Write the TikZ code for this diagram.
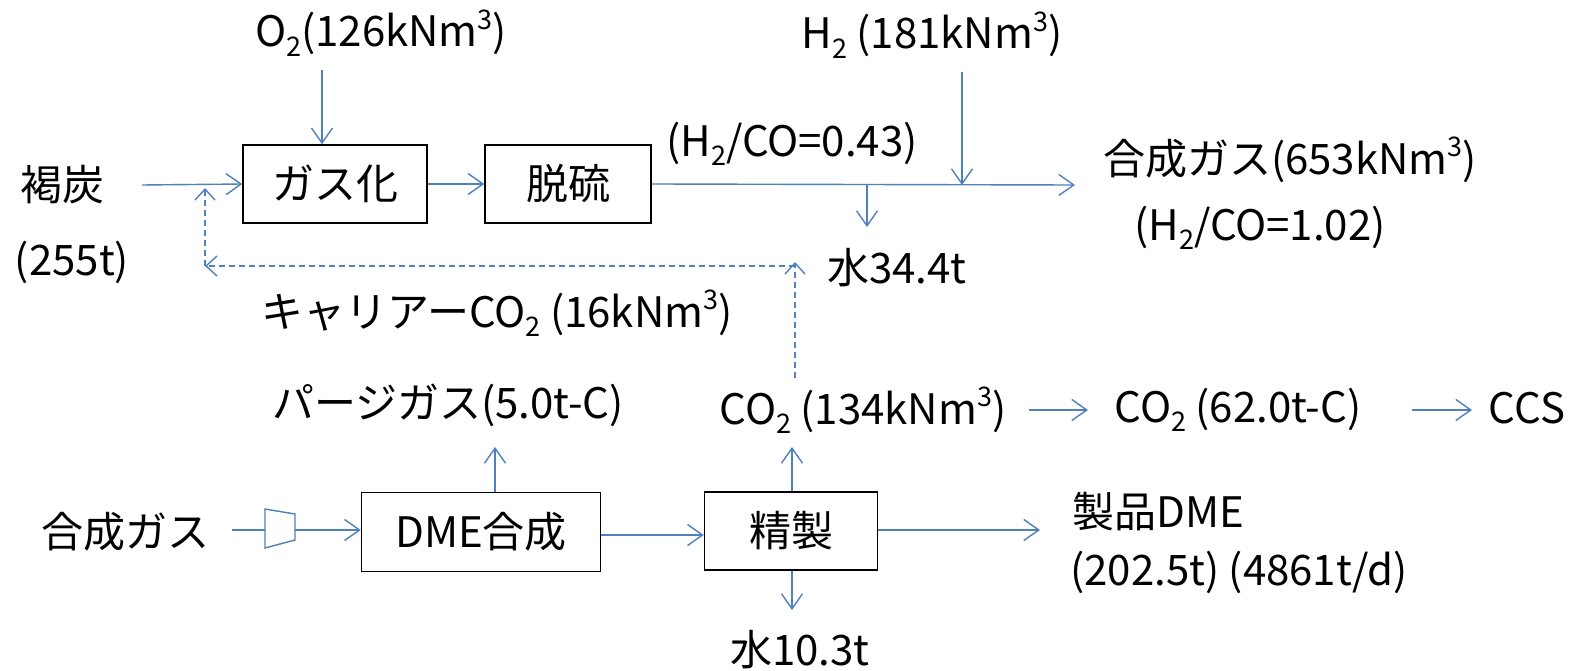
\documentclass[tikz,border=0pt]{standalone}
\usepackage{fontspec}
\setmainfont{Noto Sans CJK JP}
\usetikzlibrary{arrows.meta}
\definecolor{flow}{HTML}{4F81BD}
\newcommand{\supthree}{\raisebox{0.42em}{\fontsize{27}{27}\selectfont 3}}
\newcommand{\subtwo}{\raisebox{-0.22em}{\fontsize{27}{27}\selectfont 2}}
\begin{document}
\begin{tikzpicture}[x=1pt,y=-1pt,
  flowline/.style={draw=flow, line width=1.4pt},
  arr/.style={flowline, -{Straight Barb[length=15pt,width=21pt,line width=1.4pt]}},
  dasharr/.style={flowline, dash pattern=on 6pt off 4pt, -{Straight Barb[length=11pt,width=20pt,line width=1.4pt]}},
  box/.style={draw=black, line width=1.5pt, inner sep=0pt},
  lbl/.style={inner sep=0pt, font=\fontsize{42}{48}\selectfont},
  ]
\useasboundingbox[fill=white] (0,0) rectangle (1569,671);

% boxes
\node[box, lbl, minimum width=184pt, minimum height=78pt] (gas) at (335,184) {ガス化};
\node[box, lbl, minimum width=166pt, minimum height=78pt] (desulf) at (568,184) {脱硫};
\node[box, lbl, minimum width=239pt, minimum height=79pt] (dme) at (481,532) {DME合成};
\node[box, lbl, minimum width=173pt, minimum height=78pt] (purify) at (791,531) {精製};

% labels
\node[lbl] (o2) at (381,33) {O\subtwo(126kNm\supthree)};
\node[lbl] (h2) at (932,35) {H\subtwo\ (181kNm\supthree)};
\node[lbl] (coal) at (62,185) {褐炭};
\node[lbl] (coalamt) at (72,262) {(255t)};
\node[lbl] (ratio1) at (792,144) {(H\subtwo/CO=0.43)};
\node[lbl] (syn) at (1290,160) {合成ガス(653kNm\supthree)};
\node[lbl] (ratio2) at (1260,228) {(H\subtwo/CO=1.02)};
\node[lbl] (water1) at (897,268) {水34.4t};
\node[lbl] (carrier) at (497,313) {キャリアーCO\subtwo\ (16kNm\supthree)};
\node[lbl] (purge) at (448,405) {パージガス(5.0t-C)};
\node[lbl] (co2a) at (863,410) {CO\subtwo\ (134kNm\supthree)};
\node[lbl] (co2b) at (1238,410) {CO\subtwo\ (62.0t-C)};
\node[lbl] (ccs) at (1527,408) {CCS};
\node[lbl] (syn2) at (125,532) {合成ガス};
\node[lbl] (product) at (1158,512) {製品DME};
\node[lbl] (productamt) at (1239,572) {(202.5t) (4861t/d)};
\node[lbl] (water2) at (800,650) {水10.3t};

% coordinates
\coordinate (o2in) at (322,70);
\coordinate (coalout) at (142,185);
\coordinate (synout) at (1075,185);
\coordinate (h2in) at (962,72);
\coordinate (h2join) at (962,185);
\coordinate (wsplit) at (867,185);
\coordinate (wend) at (867,227);
\coordinate (dstart) at (795,378);
\coordinate (dcorner) at (795,266);
\coordinate (dleft) at (205,266);
\coordinate (dtop) at (205,188);
\coordinate (cin) at (232,530);
\coordinate (cl) at (265,530);
\coordinate (cr) at (295,530);
\coordinate (prodend) at (1040,530);
\coordinate (purgein) at (495,447);
\coordinate (co2in) at (792,447);
\coordinate (w2end) at (792,610);
\coordinate (a1s) at (1029,410);
\coordinate (a1e) at (1088,410);
\coordinate (a2s) at (1412,410);
\coordinate (a2e) at (1472,410);

% connectors
\draw[arr] (o2in) -- (o2in |- gas.north);
\draw[arr] (coalout) -- (gas.west);
\draw[arr] (gas.east) -- (desulf.west);
\draw[arr] (desulf.east) -- (synout);
\draw[arr] (h2in) -- (h2join);
\draw[arr] (wsplit) -- (wend);
\draw[dasharr] (dstart) -- (795,262);
\draw[dasharr] (dcorner) -- (dleft);
\draw[dasharr] (dleft) -- (dtop);

% compressor
\draw[flowline] (cin) -- (cl);
\draw[draw=flow, line width=1.4pt] (265,509) -- (295,514) -- (295,540) -- (265,548) -- cycle;
\draw[arr] (cr) -- (dme.west |- cr);
\draw[arr] (dme.east |- 0,535) -- (purify.west |- 0,535);
\draw[arr] (purify.east |- prodend) -- (prodend);
\draw[arr] (dme.north -| purgein) -- (purgein);
\draw[arr] (purify.north -| co2in) -- (co2in);
\draw[arr] (purify.south -| w2end) -- (w2end);
\draw[arr] (a1s) -- (a1e);
\draw[arr] (a2s) -- (a2e);
\end{tikzpicture}
\end{document}
